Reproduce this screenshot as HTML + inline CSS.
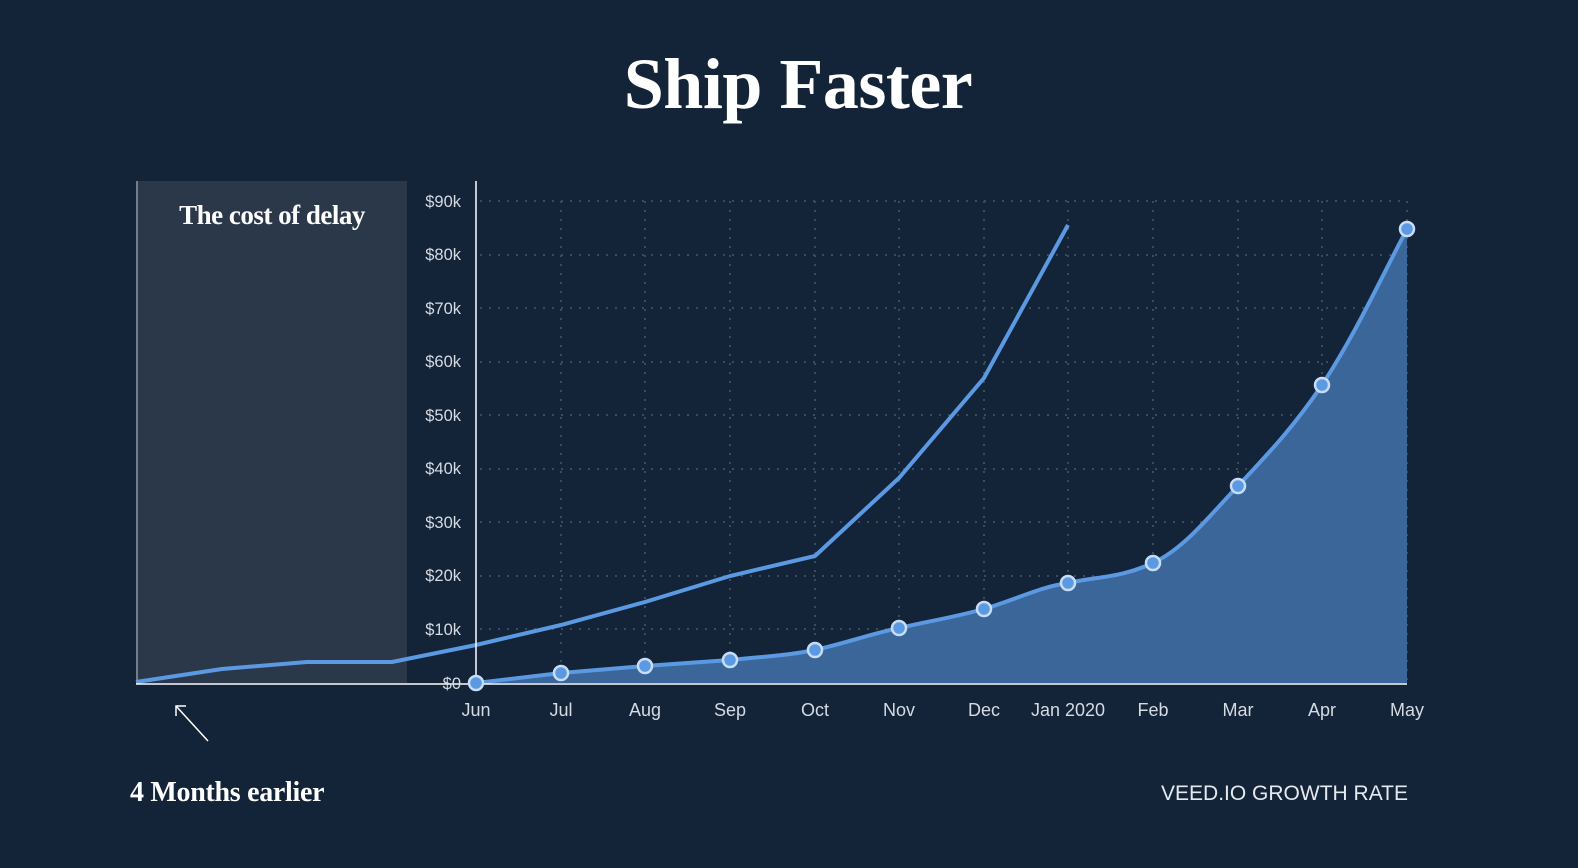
<!DOCTYPE html>
<html><head><meta charset="utf-8"><style>
html,body{margin:0;padding:0;background:#132338;}
svg{display:block}
</style></head><body>
<svg width="1578" height="868" viewBox="0 0 1578 868" xmlns="http://www.w3.org/2000/svg">
<rect width="1578" height="868" fill="#132338"/>
<text x="798" y="108" text-anchor="middle" font-family="Liberation Serif, serif" font-weight="bold" font-size="72" fill="#fff" letter-spacing="-0.5">Ship Faster</text>
<rect x="136" y="181" width="271" height="502" fill="#2b3849"/>
<text x="272" y="224" text-anchor="middle" font-family="Liberation Serif, serif" font-weight="bold" font-size="27" fill="#fff" letter-spacing="-0.5">The cost of delay</text>
<g stroke="#3a4a60" stroke-width="2" stroke-dasharray="2 7">
<line x1="480" y1="201" x2="1407" y2="201"/><line x1="480" y1="255" x2="1407" y2="255"/><line x1="480" y1="308" x2="1407" y2="308"/><line x1="480" y1="362" x2="1407" y2="362"/><line x1="480" y1="415" x2="1407" y2="415"/><line x1="480" y1="469" x2="1407" y2="469"/><line x1="480" y1="522" x2="1407" y2="522"/><line x1="480" y1="576" x2="1407" y2="576"/><line x1="480" y1="629" x2="1407" y2="629"/>
<line x1="561" y1="201" x2="561" y2="683"/><line x1="645" y1="201" x2="645" y2="683"/><line x1="730" y1="201" x2="730" y2="683"/><line x1="815" y1="201" x2="815" y2="683"/><line x1="899" y1="201" x2="899" y2="683"/><line x1="984" y1="201" x2="984" y2="683"/><line x1="1068" y1="201" x2="1068" y2="683"/><line x1="1153" y1="201" x2="1153" y2="683"/><line x1="1238" y1="201" x2="1238" y2="683"/><line x1="1322" y1="201" x2="1322" y2="683"/><line x1="1407" y1="201" x2="1407" y2="683"/>
</g>
<path d="M476,683 L561,673 L645,666 L730,660 C770,656 790,655 815,650 C850,642 870,634 899,628 C935,620 955,617 984,609 C1020,598 1040,587 1068,583 C1100,576 1120,578 1153,563 C1185,548 1210,515 1238,486 C1270,452 1295,425 1322,385 C1355,335 1380,280 1407,229 L1407,683 Z" fill="#3b6699"/>
<path d="M476,683 L561,673 L645,666 L730,660 C770,656 790,655 815,650 C850,642 870,634 899,628 C935,620 955,617 984,609 C1020,598 1040,587 1068,583 C1100,576 1120,578 1153,563 C1185,548 1210,515 1238,486 C1270,452 1295,425 1322,385 C1355,335 1380,280 1407,229" fill="none" stroke="#5b9ae3" stroke-width="4"/>
<polyline points="136,682 222,669 307,662 392,662 476,645 561,625 645,602 730,576 815,556 899,478 984,378 1068,225" fill="none" stroke="#5b9ae3" stroke-width="4"/>
<line x1="476" y1="181" x2="476" y2="683" stroke="#fff" stroke-width="1.5"/>
<line x1="137" y1="181" x2="137" y2="683" stroke="#8a96a6" stroke-width="1.5"/>
<line x1="136" y1="684" x2="1407" y2="684" stroke="#fff" stroke-width="1.5"/>
<g fill="#5b9ae3" stroke="#c7dcf5" stroke-width="2.5">
<circle cx="476" cy="683" r="7"/><circle cx="561" cy="673" r="7"/><circle cx="645" cy="666" r="7"/><circle cx="730" cy="660" r="7"/><circle cx="815" cy="650" r="7"/><circle cx="899" cy="628" r="7"/><circle cx="984" cy="609" r="7"/><circle cx="1068" cy="583" r="7"/><circle cx="1153" cy="563" r="7"/><circle cx="1238" cy="486" r="7"/><circle cx="1322" cy="385" r="7"/><circle cx="1407" cy="229" r="7"/>
</g>
<g font-family="Liberation Sans, sans-serif" font-size="16.5" fill="#d5dbe3" text-anchor="end">
<text x="461" y="207">$90k</text><text x="461" y="260">$80k</text><text x="461" y="314">$70k</text><text x="461" y="367">$60k</text><text x="461" y="421">$50k</text><text x="461" y="474">$40k</text><text x="461" y="528">$30k</text><text x="461" y="581">$20k</text><text x="461" y="635">$10k</text><text x="461" y="689">$0</text>
</g>
<g font-family="Liberation Sans, sans-serif" font-size="18" fill="#d5dbe3" text-anchor="middle">
<text x="476" y="716">Jun</text><text x="561" y="716">Jul</text><text x="645" y="716">Aug</text><text x="730" y="716">Sep</text><text x="815" y="716">Oct</text><text x="899" y="716">Nov</text><text x="984" y="716">Dec</text><text x="1068" y="716">Jan 2020</text><text x="1153" y="716">Feb</text><text x="1238" y="716">Mar</text><text x="1322" y="716">Apr</text><text x="1407" y="716">May</text>
</g>
<line x1="176" y1="706" x2="208" y2="741" stroke="#fff" stroke-width="1.5"/>
<polyline points="176,716 176,706 186,706" fill="none" stroke="#fff" stroke-width="1.5"/>
<text x="130" y="801" font-family="Liberation Serif, serif" font-weight="bold" font-size="28" fill="#fff" letter-spacing="-0.3">4 Months earlier</text>
<text x="1408" y="800" text-anchor="end" font-family="Liberation Sans, sans-serif" font-size="21" fill="#e6eaef">VEED.IO GROWTH RATE</text>
</svg>
</body></html>
